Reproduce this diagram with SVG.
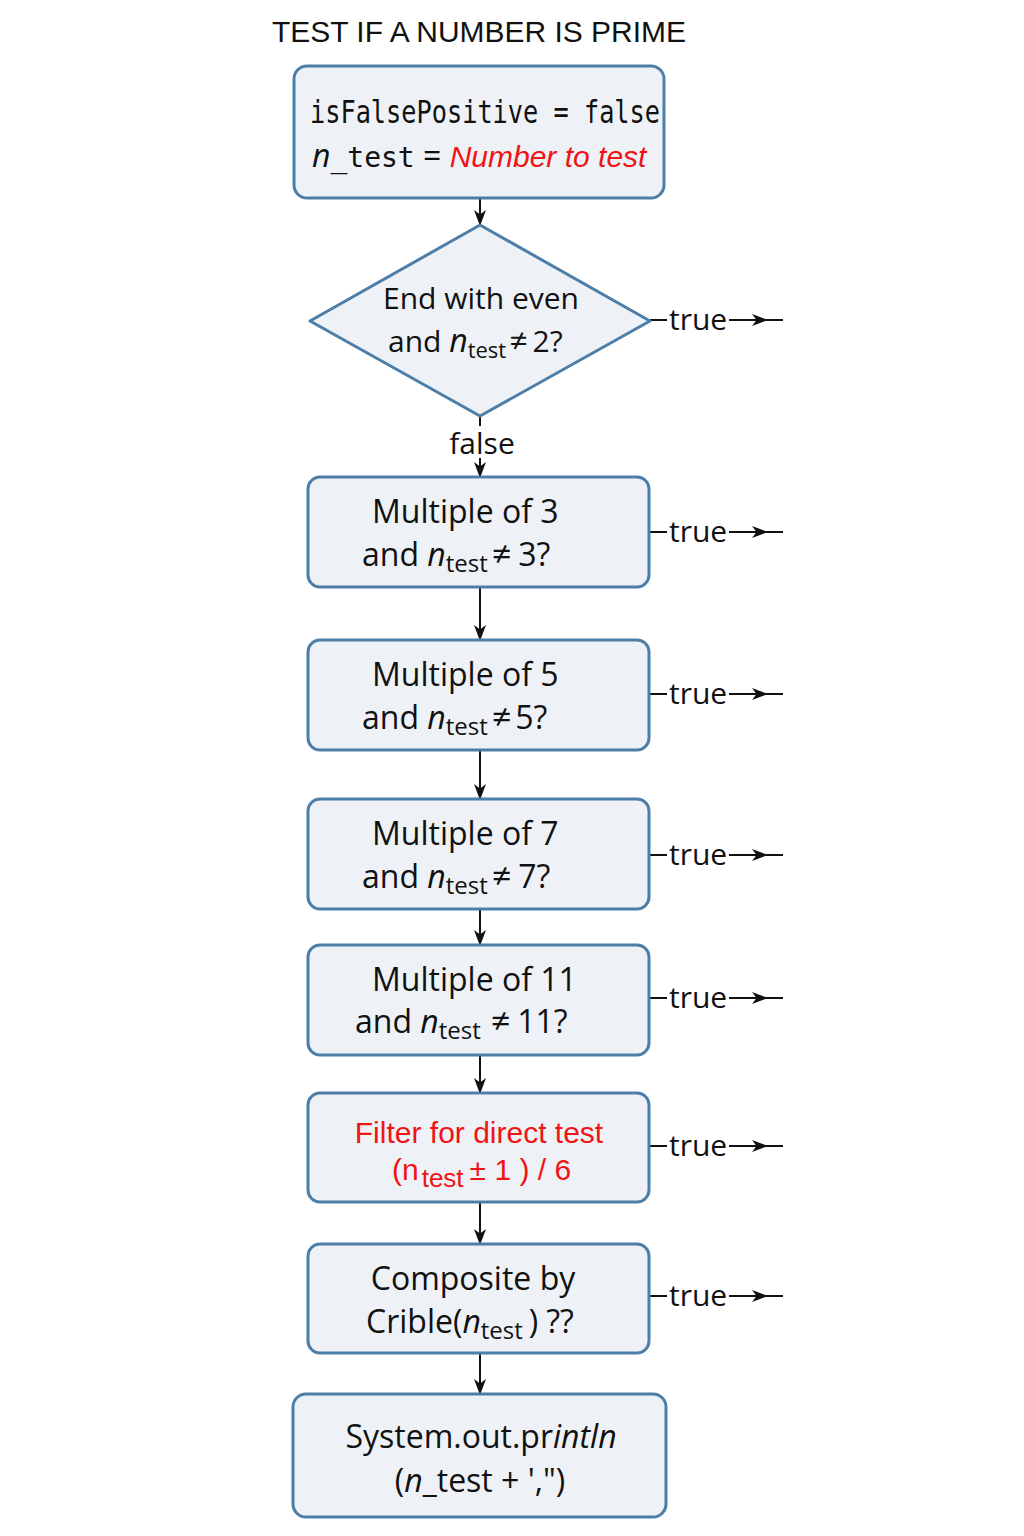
<svg xmlns="http://www.w3.org/2000/svg" width="1024" height="1536" viewBox="0 0 1024 1536">
<style>
.node{fill:#eef1f6;stroke:#4d7ea8;stroke-width:3}
.t{font-family:"Open Sans","Noto Sans",sans-serif;font-size:32px;fill:#111}
.d{font-family:"Open Sans","Noto Sans",sans-serif;font-size:30px;fill:#111}
.it{font-style:italic}
.sub{font-size:24px}
.ne{font-size:34px}
.mono{font-family:"DejaVu Sans Mono",monospace}
.red{font-family:"Liberation Sans",Arial,sans-serif;font-size:30px;fill:#f01414}
.lbl{font-family:"Open Sans","Noto Sans",sans-serif;font-size:30px;fill:#111}
.c{stroke:#111;stroke-width:2;fill:none}
</style>
<defs>
<marker id="ah" markerWidth="16" markerHeight="13" refX="15" refY="6.5" orient="auto" markerUnits="userSpaceOnUse">
<path d="M0,0.5 L16,6.5 L0,12.5 L4.5,6.5 z" fill="#111"/>
</marker>
</defs>
<rect width="1024" height="1536" fill="#ffffff"/>
<text x="479" y="42" text-anchor="middle" font-family="Liberation Sans, Arial, sans-serif" font-size="30" fill="#111" textLength="414" lengthAdjust="spacingAndGlyphs">TEST IF A NUMBER IS PRIME</text>

<g id="connectors">
<line class="c" x1="480" y1="198" x2="480" y2="225" marker-end="url(#ah)"/>
<line class="c" x1="480" y1="416" x2="480" y2="426"/>
<line class="c" x1="480" y1="458" x2="480" y2="477" marker-end="url(#ah)"/>
<line class="c" x1="480" y1="587" x2="480" y2="640" marker-end="url(#ah)"/>
<line class="c" x1="480" y1="750" x2="480" y2="799" marker-end="url(#ah)"/>
<line class="c" x1="480" y1="909" x2="480" y2="945" marker-end="url(#ah)"/>
<line class="c" x1="480" y1="1055" x2="480" y2="1093" marker-end="url(#ah)"/>
<line class="c" x1="480" y1="1202" x2="480" y2="1244" marker-end="url(#ah)"/>
<line class="c" x1="480" y1="1353" x2="480" y2="1394" marker-end="url(#ah)"/>
<text class="lbl" x="482" y="454" text-anchor="middle">false</text>

<g id="true-2">
<line class="c" x1="650" y1="320" x2="667" y2="320"/>
<text class="lbl" x="669" y="330">true</text>
<line class="c" x1="729" y1="320" x2="767" y2="320" marker-end="url(#ah)"/>
<line class="c" x1="762" y1="320" x2="783" y2="320"/>
</g>
<g id="true-3">
<line class="c" x1="649" y1="532" x2="667" y2="532"/>
<text class="lbl" x="669" y="542">true</text>
<line class="c" x1="729" y1="532" x2="767" y2="532" marker-end="url(#ah)"/>
<line class="c" x1="762" y1="532" x2="783" y2="532"/>
</g>
<g id="true-5">
<line class="c" x1="649" y1="694" x2="667" y2="694"/>
<text class="lbl" x="669" y="704">true</text>
<line class="c" x1="729" y1="694" x2="767" y2="694" marker-end="url(#ah)"/>
<line class="c" x1="762" y1="694" x2="783" y2="694"/>
</g>
<g id="true-7">
<line class="c" x1="649" y1="855" x2="667" y2="855"/>
<text class="lbl" x="669" y="865">true</text>
<line class="c" x1="729" y1="855" x2="767" y2="855" marker-end="url(#ah)"/>
<line class="c" x1="762" y1="855" x2="783" y2="855"/>
</g>
<g id="true-11">
<line class="c" x1="649" y1="998" x2="667" y2="998"/>
<text class="lbl" x="669" y="1008">true</text>
<line class="c" x1="729" y1="998" x2="767" y2="998" marker-end="url(#ah)"/>
<line class="c" x1="762" y1="998" x2="783" y2="998"/>
</g>
<g id="true-filter">
<line class="c" x1="649" y1="1146" x2="667" y2="1146"/>
<text class="lbl" x="669" y="1156">true</text>
<line class="c" x1="729" y1="1146" x2="767" y2="1146" marker-end="url(#ah)"/>
<line class="c" x1="762" y1="1146" x2="783" y2="1146"/>
</g>
<g id="true-crible">
<line class="c" x1="649" y1="1296" x2="667" y2="1296"/>
<text class="lbl" x="669" y="1306">true</text>
<line class="c" x1="729" y1="1296" x2="767" y2="1296" marker-end="url(#ah)"/>
<line class="c" x1="762" y1="1296" x2="783" y2="1296"/>
</g>
</g>

<g id="init">
<rect class="node" x="294" y="66" width="370" height="132" rx="13"/>
<text class="mono" x="310" y="123" font-size="32" fill="#111" textLength="350" lengthAdjust="spacingAndGlyphs">isFalsePositive = false</text>
<text class="t" x="312" y="167"><tspan class="it">n</tspan><tspan class="mono" font-size="28">_test</tspan> = <tspan class="red it">Number to test</tspan></text>
</g>

<g id="even">
<path class="node" d="M480,225 L650,321 L480,416 L310,321 Z" stroke-linejoin="round"/>
<text class="d" x="481" y="309" text-anchor="middle">End with even</text>
<text class="d" x="388" y="352">and <tspan class="it" font-size="32">n</tspan><tspan font-size="22" dy="6">test</tspan><tspan dy="-6" dx="3" font-size="32">≠</tspan><tspan dx="5">2?</tspan></text>
</g>

<g id="mult3">
<rect class="node" x="308" y="477" width="341" height="110" rx="12"/>
<text class="t" x="372" y="523">Multiple of 3</text>
<text class="t" x="362" y="566">and <tspan class="it">n</tspan><tspan class="sub" dy="6">test</tspan><tspan class="ne" dy="-6" dx="4">≠</tspan><tspan dx="7">3?</tspan></text>
</g>

<g id="mult5">
<rect class="node" x="308" y="640" width="341" height="110" rx="12"/>
<text class="t" x="372" y="686">Multiple of 5</text>
<text class="t" x="362" y="729">and <tspan class="it">n</tspan><tspan class="sub" dy="6">test</tspan><tspan class="ne" dy="-6" dx="4">≠</tspan><tspan dx="4">5?</tspan></text>
</g>

<g id="mult7">
<rect class="node" x="308" y="799" width="341" height="110" rx="12"/>
<text class="t" x="372" y="845">Multiple of 7</text>
<text class="t" x="362" y="888">and <tspan class="it">n</tspan><tspan class="sub" dy="6">test</tspan><tspan class="ne" dy="-6" dx="4">≠</tspan><tspan dx="7">7?</tspan></text>
</g>

<g id="mult11">
<rect class="node" x="308" y="945" width="341" height="110" rx="12"/>
<text class="t" x="372" y="991">Multiple of 11</text>
<text class="t" x="355" y="1033">and <tspan class="it">n</tspan><tspan class="sub" dy="6">test</tspan><tspan class="ne" dy="-6" dx="10">≠</tspan><tspan dx="7">11?</tspan></text>
</g>

<g id="filter">
<rect class="node" x="308" y="1093" width="341" height="109" rx="12"/>
<text class="red" x="479" y="1143" text-anchor="middle">Filter for direct test</text>
<text class="red" x="392" y="1180">(n<tspan font-size="26" dy="7" dx="3">test</tspan><tspan dy="-7" dx="6">± 1 ) / 6</tspan></text>
</g>

<g id="crible">
<rect class="node" x="308" y="1244" width="341" height="109" rx="12"/>
<text class="t" x="473" y="1290" text-anchor="middle">Composite by</text>
<text class="t" x="366" y="1333">Crible(<tspan class="it">n</tspan><tspan class="sub" dy="6">test</tspan><tspan dy="-6" dx="6">)</tspan><tspan dx="8">??</tspan></text>
</g>

<g id="print">
<rect class="node" x="293" y="1394" width="373" height="123" rx="13"/>
<text class="t" x="481" y="1448" text-anchor="middle">System.out.pr<tspan class="it">intln</tspan></text>
<text class="t" x="480" y="1492" text-anchor="middle">(<tspan class="it">n</tspan>_test + ',")</text>
</g>
</svg>
